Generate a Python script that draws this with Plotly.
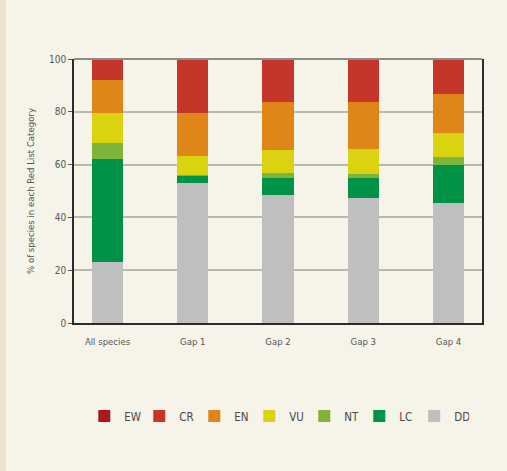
import plotly.graph_objects as go

categories = ["All species", "Gap 1", "Gap 2", "Gap 3", "Gap 4"]

# % of species per Red List category (bottom to top of the stack)
dd = [23.2, 53.1, 48.5, 47.4, 45.5]
lc = [39.0, 2.6, 6.5, 7.6, 14.4]
nt = [6.0, 0.4, 1.9, 1.5, 3.0]
vu = [11.4, 7.2, 8.7, 9.5, 9.1]
en = [12.5, 16.3, 18.1, 17.7, 14.8]
cr = [7.9, 20.4, 16.3, 16.3, 13.2]
ew = [0, 0, 0, 0, 0]

series = [
    ("DD", dd, "#bfbfbf"),
    ("LC", lc, "#009246"),
    ("NT", nt, "#7fb43a"),
    ("VU", vu, "#dbd30f"),
    ("EN", en, "#e08618"),
    ("CR", cr, "#c5352a"),
    ("EW", ew, "#a8191d"),
]

y_ticks = [0, 20, 40, 60, 80, 100]

BG = "#f6f3e9"
FONT = "Liberation Sans Narrow, Arial Narrow, DejaVu Sans Condensed, sans-serif"

fig = go.Figure()
for name, vals, color in series:
    fig.add_trace(go.Bar(
        x=categories, y=vals, name=name,
        marker=dict(color=color, line=dict(width=0)),
        width=0.364,
    ))

W, H = 507, 471
L, R, T, B = 74, 25, 59, 148
pw, ph = W - L - R, H - T - B

fig.update_layout(
    width=W, height=H,
    margin=dict(l=L, r=R, t=T, b=B, pad=0),
    barmode="stack",
    paper_bgcolor=BG,
    plot_bgcolor=BG,
    font=dict(family=FONT, size=10, color="#555555"),
    showlegend=True,
    legend=dict(
        orientation="h", traceorder="reversed",
        x=0.497, xanchor="center", y=(T + ph - 416) / ph, yanchor="middle",
        font=dict(family=FONT, size=11.5, color="#4a4a4a"),
        bgcolor="rgba(0,0,0,0)", itemwidth=30,
        entrywidth=10, entrywidthmode="pixels",
    ),
    xaxis=dict(
        range=[-0.393, 4.393],
        showline=True, linecolor="#2b2b2b", linewidth=1.5,
        showgrid=False, ticks="", ticklabelstandoff=9,
        tickfont=dict(family=FONT, size=9.5, color="#555555"),
        fixedrange=True,
    ),
    yaxis=dict(
        range=[0, 100], tickvals=y_ticks,
        showline=True, linecolor="#2b2b2b", linewidth=1.5, mirror=True,
        showgrid=True, gridcolor="#b9b8b1", gridwidth=1.5,
        ticks="outside", ticklen=4, tickcolor="#555555", tickwidth=1,
        tickfont=dict(family=FONT, size=10, color="#555555"),
        title=dict(text="% of species in each Red List Category",
                   font=dict(family=FONT, size=9.5, color="#555555"),
                   standoff=13),
        zeroline=False,
        fixedrange=True,
    ),
    shapes=[
        dict(type="rect", xref="paper", yref="paper",
             x0=-L / pw, x1=(6 - L) / pw,
             y0=-B / ph, y1=(ph + T) / ph,
             fillcolor="#ece5cc", line=dict(width=0), layer="below"),
        dict(type="line", xref="paper", yref="paper",
             x0=0, x1=1, y0=1, y1=1,
             line=dict(color="#8d8c86", width=2)),
    ],
)

fig.write_html(
    "out.html",
    config={"displayModeBar": False},
    post_script="document.body.style.margin='0';document.body.style.background='" + BG + "';",
)
